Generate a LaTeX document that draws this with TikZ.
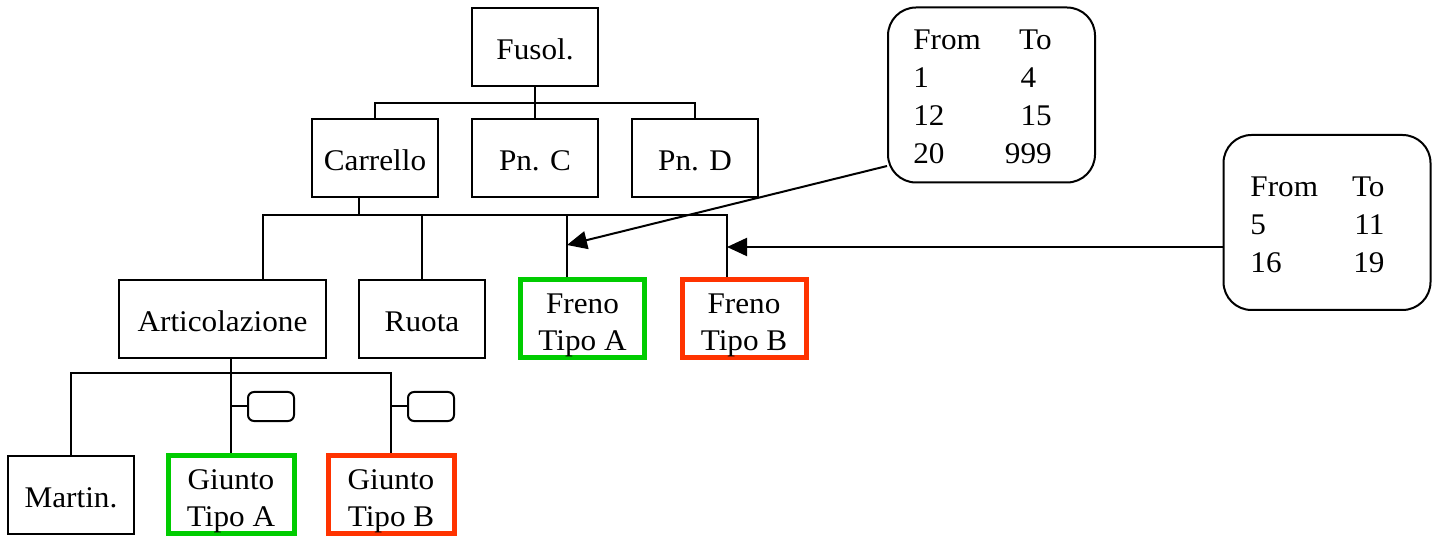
\documentclass[tikz,border=0pt]{standalone}
\usepackage{fontspec}
\setmainfont{Liberation Serif}[FakeStretch=1.04]
\usetikzlibrary{arrows.meta}
\definecolor{tipoA}{RGB}{0,204,0}
\definecolor{tipoB}{RGB}{255,51,0}
\newcommand{\twolines}[2]{\raisebox{-3pt}[\height][\depth]{\begin{tabular}{@{}c@{}}#1\\#2\end{tabular}}}
\tikzset{part/.style={draw,line width=1pt,minimum width=63pt,minimum height=39pt,inner sep=0pt,align=center},
         unit/.style={part,text height=12.5pt,text depth=0pt},
         varA/.style={part,draw=tipoA,line width=2.5pt},
         varB/.style={part,draw=tipoB,line width=2.5pt},
         rangebox/.style={draw,line width=1pt,rounded corners=14pt,minimum width=103.5pt,minimum height=87.5pt,inner sep=0pt},
         tagbox/.style={draw,line width=1pt,rounded corners=3pt,minimum width=23pt,minimum height=14.5pt,inner sep=0pt},
         link/.style={line width=1pt},
         pointer/.style={line width=1pt,-{Triangle[length=10pt,width=9pt]}}}

\begin{document}
\begin{tikzpicture}[x=0.5pt,y=-0.5pt]
                  \tikzstyle{every node}=[font=\fontsize{15}{18.5}\selectfont]
                  \useasboundingbox (0,0) rectangle (1434,539);
                  % tree
                  \node[unit] (fus) at (535,47) {Fusol.};
                  \node[unit] (car) at (375,158.5) {Carrello};
                  \node[unit] (pnc) at (535,158.5) {Pn. C};
                  \node[unit] (pnd) at (695,158.5) {Pn. D};
                  \node[unit,minimum width=103.5pt] (art) at (222.5,319) {Articolazione};
                  \node[unit] (ruo) at (422,319) {Ruota};
                  \node[varA,minimum width=62pt] (frA) at (582.5,319) {\twolines{Freno}{Tipo A}};
                  \node[varB,minimum width=62pt] (frB) at (744,319) {\twolines{Freno}{Tipo B}};
                  \node[unit] (mar) at (71,494.5) {Martin.};
                  \node[varA] (giA) at (231,494.5) {\twolines{Giunto}{Tipo A}};
                  \node[varB] (giB) at (391,494.5) {\twolines{Giunto}{Tipo B}};
                  \node[tagbox] (tgA) at (271,406.5) {};
                  \node[tagbox] (tgB) at (431,406.5) {};
                  % ranges
                  \node[rangebox] (rng1) at (991.5,95) {\raisebox{-2pt}[\height][\depth]{\renewcommand{\arraystretch}{1.03}\begin{tabular}{@{}l@{\hspace{12pt}}r@{\hspace{9pt}}}From & To\\1 & 4\phantom{0}\\12 & 15\\20 & 999\end{tabular}}};
                  \node[rangebox] (rng2) at (1327,222.5) {\raisebox{-2pt}[\height][\depth]{\renewcommand{\arraystretch}{1.03}\begin{tabular}{@{}l@{\hspace{17pt}}r@{\hspace{9.5pt}}}From & To\\5 & 11\\16 & 19\end{tabular}}};
                  % connectors
                  \coordinate (b2) at (0,215);
                  \draw[link] (car.north) -- ++(0,-15) -| (pnd.north);
                  \draw[link] (fus.south) -- (pnc.north);
                  \draw[link] ([xshift=-8pt]car.south) -- ([xshift=-8pt]car.south |- b2);
                  \draw[link] ([xshift=20.25pt]art.north) -- ([xshift=20.25pt]art.north |- b2) -| ([xshift=-8.5pt]frB.north);
                  \draw[link] (ruo.north) -- (ruo.north |- b2);
                  \draw[link] ([xshift=-7.75pt]frA.north) -- ([xshift=-7.75pt]frA.north |- b2);
                  \draw[link] (mar.north) -- ++(0,-81) -| (giB.north);
                  \draw[link] ([xshift=4.25pt]art.south) -- (giA.north);
                  \draw[link] (tgA.west) -- (tgA.west -| giA.north);
                  \draw[link] (tgB.west) -- (tgB.west -| giB.north);
                  \coordinate (tipA) at (567,245);
                  \coordinate (tipB) at (727,247);
                  \draw[pointer] (rng1.west |- 0,166) -- (tipA);
                  \draw[pointer] (rng2.west |- tipB) -- (tipB);
              \end{tikzpicture}
\end{document}
